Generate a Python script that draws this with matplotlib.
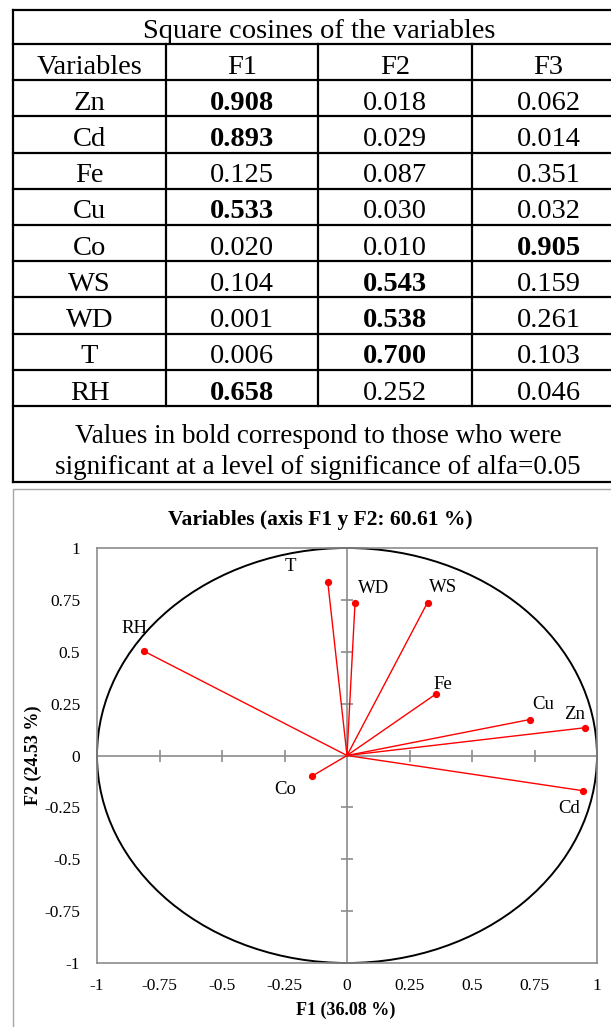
import matplotlib
matplotlib.use("Agg")
import matplotlib.pyplot as plt
import numpy as np
from matplotlib.patches import Rectangle, Circle

plt.rcParams["font.family"] = ["Liberation Serif", "DejaVu Serif"]

# ---- data -------------------------------------------------------------
variables = ["Zn", "Cd", "Fe", "Cu", "Co", "WS", "WD", "T", "RH"]
factors = ["F1", "F2", "F3"]
cos2_f1 = [0.908, 0.893, 0.125, 0.533, 0.020, 0.104, 0.001, 0.006, 0.658]
cos2_f2 = [0.018, 0.029, 0.087, 0.030, 0.010, 0.543, 0.538, 0.700, 0.252]
cos2_f3 = [0.062, 0.014, 0.351, 0.032, 0.905, 0.159, 0.261, 0.103, 0.046]
signif_f1 = [True, True, False, True, False, False, False, False, True]
signif_f2 = [False, False, False, False, False, True, True, True, False]
signif_f3 = [False, False, False, False, True, False, False, False, False]

# correlations of the variables with the factors F1 and F2
corr_f1 = [0.953, 0.945, 0.354, 0.730, -0.141, 0.322, 0.032, -0.077, -0.811]
corr_f2 = [0.134, -0.170, 0.295, 0.173, -0.100, 0.737, 0.733, 0.837, 0.502]

table_title = "Square cosines of the variables"
table_notes = ["Values in bold correspond to those who were",
               "significant at a level of significance of alfa=0.05"]
chart_title = "Variables (axis F1 y F2: 60.61 %)"
xlabel = "F1 (36.08 %)"
ylabel = "F2 (24.53 %)"
ticks = [-1, -0.75, -0.5, -0.25, 0, 0.25, 0.5, 0.75, 1]
tick_labels = ["-1", "-0.75", "-0.5", "-0.25", "0", "0.25", "0.5", "0.75", "1"]

# label offsets (pixels) of each variable name from its arrow tip
label_dx = [-11, -14, 7, 14, -27, 16, 19, -37, -10]
label_dy = [13, -18, 10, 15, -13, 15, 15, 15, 23]

# ---- figure -----------------------------------------------------------
W, H, DPI = 611, 1027, 100
fig = plt.figure(figsize=(W / DPI, H / DPI), dpi=DPI)
bg = fig.add_axes([0, 0, 1, 1])
bg.set_xlim(0, W)
bg.set_ylim(H, 0)
bg.axis("off")

# ---- table ------------------------------------------------------------
col_edges = [13, 166, 318, 472, 625]
top, title_bottom = 10, 44
row_h = 36.2
n_rows = len(variables) + 1
row_edges = [title_bottom + i * row_h for i in range(n_rows + 1)]
bottom = 482
tfs = 20.5
lc = "black"
lw = 1.6

bg.plot([col_edges[0], col_edges[-1]], [top, top], color=lc, lw=lw)
for y in row_edges:
    bg.plot([col_edges[0], col_edges[-1]], [y, y], color=lc, lw=lw)
bg.plot([col_edges[0], col_edges[-1]], [bottom, bottom], color=lc, lw=lw)
bg.plot([col_edges[0], col_edges[0]], [top, bottom], color=lc, lw=lw)
for x in col_edges[1:-1]:
    bg.plot([x, x], [title_bottom, row_edges[-1]], color=lc, lw=lw)

bg.text((col_edges[0] + col_edges[-1]) / 2, title_bottom - 5.5, table_title,
        ha="center", va="baseline", fontsize=tfs)

centers = [(col_edges[i] + col_edges[i + 1]) / 2 for i in range(4)]
bg.text(centers[0], row_edges[1] - 6.5, "Variables", ha="center",
        va="baseline", fontsize=tfs)
for j, f in enumerate(factors):
    bg.text(centers[j + 1], row_edges[1] - 6.5, f, ha="center",
            va="baseline", fontsize=tfs)

cols = [cos2_f1, cos2_f2, cos2_f3]
sigs = [signif_f1, signif_f2, signif_f3]
for i, v in enumerate(variables):
    yb = row_edges[i + 2] - 6.5
    bg.text(centers[0], yb, v, ha="center", va="baseline", fontsize=tfs)
    for j in range(3):
        bg.text(centers[j + 1], yb, f"{cols[j][i]:.3f}", ha="center",
                va="baseline", fontsize=tfs,
                fontweight="bold" if sigs[j][i] else "normal")

notes_x = 318
bg.text(notes_x, 443, table_notes[0], ha="center", va="baseline", fontsize=19.5)
bg.text(notes_x, 474, table_notes[1], ha="center", va="baseline", fontsize=19.5)

# ---- chart frame ------------------------------------------------------
bg.add_patch(Rectangle((13, 489), 700, 700, fill=False, ec="#a6a6a6", lw=1.0))
bg.text(320, 520, chart_title, ha="center", va="center", fontsize=15.5,
        fontweight="bold")
bg.text(346, 1010, xlabel, ha="center", va="center", fontsize=13,
        fontweight="bold")
bg.text(33, 755, ylabel, ha="center", va="center", fontsize=13,
        fontweight="bold", rotation=90)

# ---- correlation circle ----------------------------------------------
x0, x1, y0, y1 = 97, 597, 548, 963
ax = fig.add_axes([x0 / W, 1 - y1 / H, (x1 - x0) / W, (y1 - y0) / H])
ax.set_xlim(-1, 1)
ax.set_ylim(-1, 1)
gray = "#8c8c8c"
for s in ax.spines.values():
    s.set_color(gray)
    s.set_linewidth(1.2)
ax.set_xticks(ticks)
ax.set_yticks(ticks)
ax.set_xticklabels(tick_labels)
ax.set_yticklabels(tick_labels)
ax.tick_params(length=0, labelsize=12.5, colors="black")
ax.tick_params(axis="x", pad=11)
ax.tick_params(axis="y", pad=12)

ax.axhline(0, color=gray, lw=1.2, zorder=1)
ax.axvline(0, color=gray, lw=1.2, zorder=1)
inner = [t for t in ticks if t not in (-1, 0, 1)]
ax.plot(inner, np.zeros(len(inner)), ls="none", marker="|", ms=9,
        mew=1.2, color=gray, zorder=1)
ax.plot(np.zeros(len(inner)), inner, ls="none", marker="_", ms=9,
        mew=1.2, color=gray, zorder=1)

ax.add_patch(Circle((0, 0), 1, fill=False, ec="black", lw=1.4,
                    clip_on=False, zorder=2))

for i, v in enumerate(variables):
    ax.plot([0, corr_f1[i]], [0, corr_f2[i]], color="#ff0000", lw=1.0,
            zorder=3)
    ax.plot(corr_f1[i], corr_f2[i], "o", color="#ff0000", ms=4.2, zorder=4)
    ax.annotate(v, (corr_f1[i], corr_f2[i]), xytext=(label_dx[i], label_dy[i]),
                textcoords="offset pixels", ha="center", va="center",
                fontsize=13.5)

fig.savefig("out.png", dpi=DPI)
